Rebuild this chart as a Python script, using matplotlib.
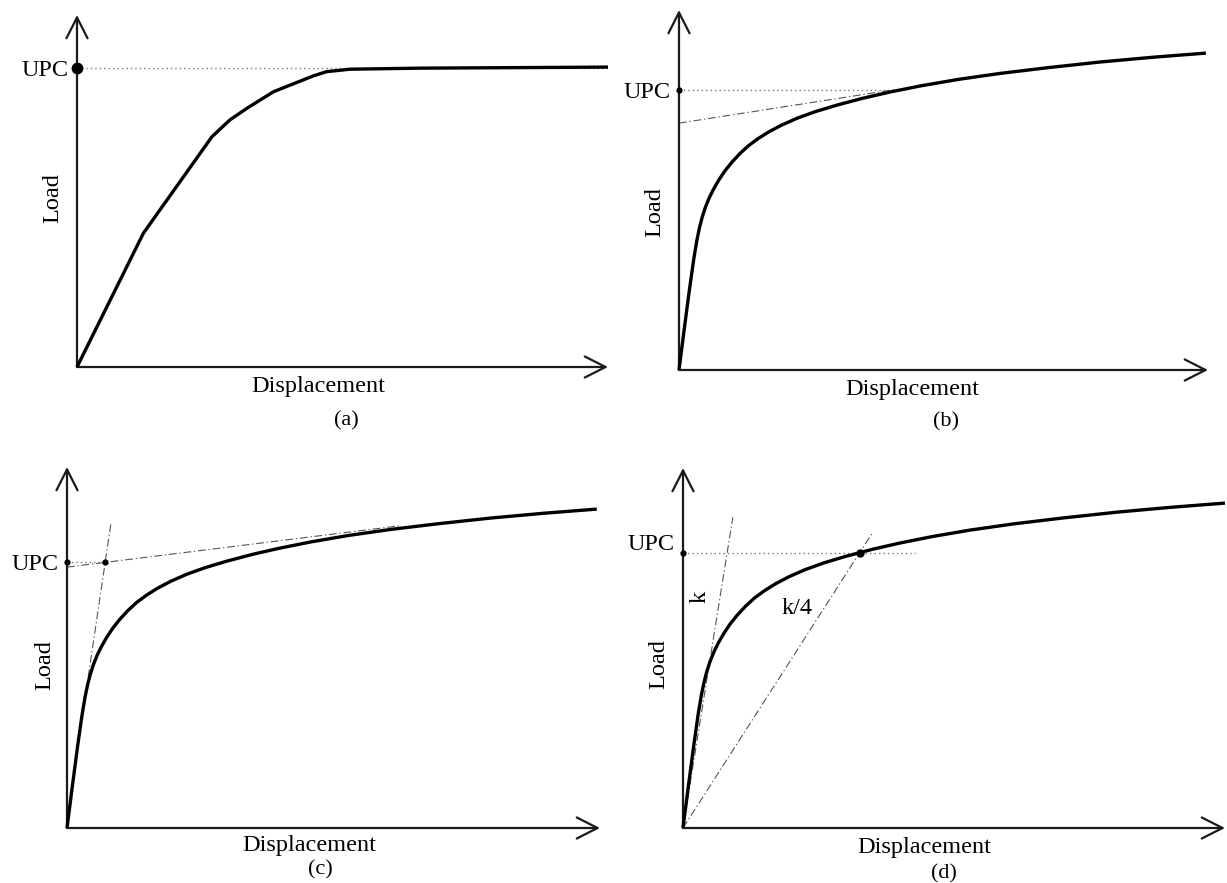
import matplotlib
matplotlib.use("Agg")
import matplotlib.pyplot as plt

plt.rcParams["font.family"] = ["Liberation Serif", "DejaVu Serif"]

# ---------------------------------------------------------------------------
# Load–displacement data (displacement and load in arbitrary units)
# ---------------------------------------------------------------------------
# (a) curve with a clear plateau
disp_a = [0, 12.5, 25.4, 28.8, 32.0, 37.0, 44.5, 47.0, 51.4, 64.6, 100.0]
load_a = [0, 38.0, 65.4, 70.2, 73.5, 78.2, 82.7, 83.9, 84.6, 84.9, 85.2]
upc_a = 84.9

# (b)-(d) smooth curve without a plateau
disp_s = [0, 1.0, 2.0, 2.8, 3.4, 3.9, 4.4, 5.0, 5.7, 6.5, 7.5, 8.7, 10.0,
          11.5, 13.2, 15.0, 17.0, 19.5, 22.5, 26, 30, 35, 40, 46, 53, 61,
          70, 80, 90, 100]
load_s = [0, 13.0, 25.6, 35.0, 41.0, 45.0, 48.2, 51.3, 54.2, 56.9, 59.8,
          62.8, 65.5, 68.2, 70.8, 73.0, 75.1, 77.3, 79.5, 81.6, 83.6, 85.8,
          87.7, 89.7, 91.7, 93.6, 95.4, 97.2, 98.7, 100]

# (b) tangent to the final part of the curve
tan_b_disp = [0, 41.0]
tan_b_load = [77.9, 88.5]
upc_b = 88.5
upc_b_disp = 41.0

# (c) intersection of initial and final tangents
tan_c_disp = [0, 63.0]
tan_c_load = [81.8, 94.8]
init_c_disp = [4.0, 8.3]
init_c_load = [47.3, 95.6]
upc_c_disp = 7.2
upc_c = 83.3

# (d) initial stiffness k and reduced stiffness k/4
k_stiff = 10.4
k_disp_end = 9.2
k4_disp_end = 35.0
upc_d_disp = 32.6
upc_d = 84.75
upc_d_line_end = 42.8

# ---------------------------------------------------------------------------
W, H = 1227, 883
fig = plt.figure(figsize=(W / 100, H / 100), dpi=100)
fig.patch.set_facecolor("white")

AX_COLOR = "#1a1a1a"
FS = 17.5
FS_SUB = 16


def make_panel(ox, oy, tx, ty, xmax, ymax):
    """Axes whose origin sits at pixel (ox, oy) and whose arrows end at tx / ty."""
    ax = fig.add_axes([ox / W, 1 - oy / H, (tx - ox) / W, (oy - ty) / H])
    ax.set_xlim(0, xmax)
    ax.set_ylim(0, ymax)
    ax.axis("off")
    style = "->,head_length=0.75,head_width=0.38"
    for end in [(xmax, 0), (0, ymax)]:
        ax.annotate("", xy=end, xytext=(0, 0),
                    arrowprops=dict(arrowstyle=style, lw=1.6, color=AX_COLOR,
                                    shrinkA=0, shrinkB=0, mutation_scale=20),
                    annotation_clip=False)
    return ax


def curve(ax, x, y):
    ax.plot(x, y, color="black", lw=2.4, solid_joinstyle="round",
            solid_capstyle="butt", clip_on=False, zorder=3)


def dotted(ax, x, y):
    ax.plot(x, y, color="#777777", lw=1.0, linestyle=(0, (1, 2.2)),
            clip_on=False, zorder=2)


def dashdot(ax, x, y):
    ax.plot(x, y, color="#555555", lw=0.8, linestyle=(0, (7, 2.5, 1.2, 2.5)),
            clip_on=False, zorder=2)


def upc_label(ax, y, dx=-9, dy=0):
    ax.annotate("UPC", xy=(0, y), xytext=(dx, dy), textcoords="offset points",
                ha="right", va="center_baseline", fontsize=FS,
                annotation_clip=False)


def fig_text(px, py, s, size=FS, rot=0):
    fig.text(px / W, 1 - py / H, s, ha="center", va="center", fontsize=size,
             rotation=rot)


# ---------------- (a) ----------------
ax = make_panel(77, 367, 608, 15, 100, 100)
curve(ax, disp_a, load_a)
dotted(ax, [0, 100], [upc_a, upc_a])
ax.plot([0], [upc_a], "o", color="black", ms=7.5, clip_on=False, zorder=4)
upc_label(ax, upc_a, dx=-6)
fig_text(53, 198, "Load", rot=90)
fig_text(318, 387, "Displacement")
fig_text(346, 421, "(a)", size=FS_SUB)

# ---------------- (b) ----------------
ax = make_panel(679, 370, 1208, 10, 100.4, 113.6)
dashdot(ax, tan_b_disp, tan_b_load)
dotted(ax, [0, upc_b_disp], [upc_b, upc_b])
curve(ax, disp_s, load_s)
ax.plot([0], [upc_b], "o", color="black", ms=3.5, clip_on=False, zorder=4)
upc_label(ax, upc_b, dx=-6)
fig_text(655, 212, "Load", rot=90)
fig_text(912, 390, "Displacement")
fig_text(946, 422, "(b)", size=FS_SUB)

# ---------------- (c) ----------------
ax = make_panel(67, 828, 600, 467, 100.6, 113.2)
dashdot(ax, tan_c_disp, tan_c_load)
dashdot(ax, init_c_disp, init_c_load)
dotted(ax, [0, upc_c_disp], [upc_c, upc_c])
curve(ax, disp_s, load_s)
ax.plot([0, upc_c_disp], [upc_c, upc_c], "o", color="black", ms=3.5,
        clip_on=False, zorder=4)
upc_label(ax, upc_c, dx=-6)
fig_text(45, 665, "Load", rot=90)
fig_text(309, 846, "Displacement")
fig_text(320, 870, "(c)", size=FS_SUB)

# ---------------- (d) ----------------
ax = make_panel(683, 828, 1225, 468, 100, 110.8)
dashdot(ax, [0, k_disp_end], [0, k_stiff * k_disp_end])
dashdot(ax, [0, k4_disp_end], [0, k_stiff / 4 * k4_disp_end])
dotted(ax, [0, upc_d_line_end], [upc_d, upc_d])
curve(ax, disp_s, load_s)
ax.plot([0], [upc_d], "o", color="black", ms=3.5, clip_on=False, zorder=4)
ax.plot([upc_d_disp], [upc_d], "o", color="black", ms=5, clip_on=False,
        zorder=4)
upc_label(ax, upc_d, dx=-6, dy=8)
ax.text(3.1, 71.1, "k", ha="center", va="center", fontsize=FS, rotation=90)
ax.text(21.0, 67.7, "k/4", ha="center", va="center", fontsize=FS)
fig_text(659, 664, "Load", rot=90)
fig_text(924, 847, "Displacement")
fig_text(944, 874, "(d)", size=FS_SUB)

fig.savefig("out.png", dpi=100, facecolor="white")
